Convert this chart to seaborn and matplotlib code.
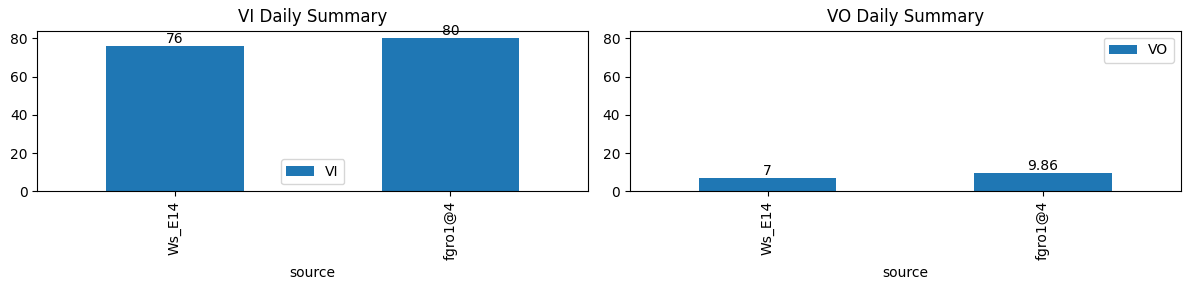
import matplotlib
matplotlib.use("Agg")
import matplotlib.pyplot as plt
import seaborn as sns
import pandas as pd

sources = ["Ws_E14", "fgro1@4"]
vi_values = [76, 80]
vo_values = [7, 9.86]
titles = ["VI Daily Summary", "VO Daily Summary"]
series_names = ["VI", "VO"]
legend_locs = ["lower center", "upper right"]

fig, axes = plt.subplots(1, 2, figsize=(11.89, 2.9), dpi=100, sharey=True)
for ax, vals, name, title, loc in zip(axes, [vi_values, vo_values], series_names, titles, legend_locs):
    df = pd.DataFrame({"source": sources, "value": vals, "series": name})
    sns.barplot(data=df, x="source", y="value", hue="series", palette=["#1f77b4"],
                width=0.5, saturation=1, dodge=False, ax=ax)
    for c in ax.containers:
        ax.bar_label(c, labels=[f"{v:g}" for v in vals])
    ax.set_xlim(-0.5, 1.5)
    ax.set_title(title)
    ax.set_ylabel("")
    ax.set_xlabel("source")
    ax.tick_params(axis="x", labelrotation=90)
    ax.legend(loc=loc, title=None)
    ax.yaxis.set_tick_params(labelleft=True)
axes[0].set_ylim(0, 84)
fig.subplots_adjust(left=0.0314, right=0.993, top=0.894, bottom=0.340, wspace=0.0762)
fig.savefig("out.png", dpi=100)
